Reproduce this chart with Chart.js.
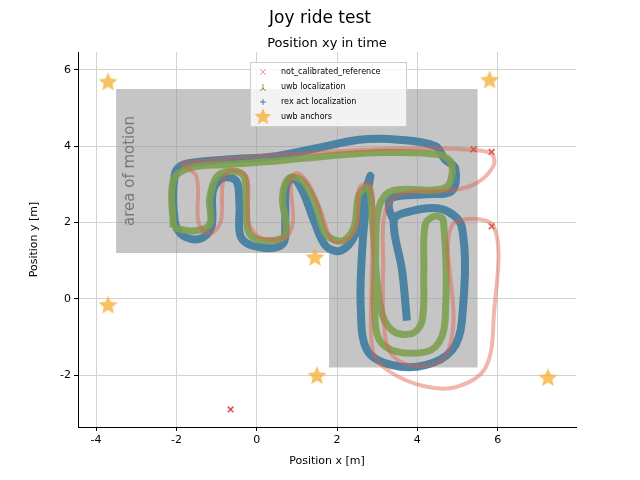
<!DOCTYPE html>
<html>
<head>
<meta charset="utf-8">
<script src="https://cdn.jsdelivr.net/npm/chart.js@4.4.0/dist/chart.umd.min.js"></script>
<style>body{margin:0;background:#fff}</style>
</head>
<body>
<canvas id="grafico" width="640" height="480"></canvas>
<script>
// traiettorie (metri)
let rexX = [3.74,3.62,3.41,3.70,4.61,5.11,5.11,4.86,4.20,3.37,2.75,2.59,2.63,2.75,2.83,2.67,2.46,2.09,1.72,1.43,1.14,0.89,0.73,0.71,0.64,0.07,-0.39,-0.43,-0.51,-0.84,-1.09,-1.13,-1.42,-1.83,-2.04,-2.04,-1.83,-0.76,0.48,1.55,2.55,3.54,4.45,4.69,4.94,4.86,4.20,3.37,3.29,3.41];
let rexY = [-0.57,0.74,2.04,2.26,2.35,1.87,-0.57,-1.35,-1.74,-1.74,-1.35,-0.22,1.35,2.74,3.22,2.65,1.70,1.26,1.39,2.04,2.83,3.17,2.91,2.04,1.43,1.35,1.61,2.48,3.09,3.17,2.83,1.87,1.57,1.65,2.04,3.26,3.52,3.65,3.74,3.96,4.17,4.17,4.00,3.65,3.43,2.83,2.74,2.65,2.39,2.04];
let uwbX = [-2.08,-2.08,-1.67,-0.76,0.48,1.72,2.96,4.53,4.86,4.69,3.37,3.04,2.96,2.96,3.21,3.87,4.45,4.69,4.65,4.45,4.20,4.16,4.12,3.87,3.37,3.08,2.88,2.79,2.55,2.42,2.13,1.72,1.47,1.14,0.81,0.64,0.73,0.31,-0.18,-0.26,-0.35,-0.93,-1.17,-1.17,-1.59,-2.08];
let uwbY = [1.87,3.09,3.43,3.52,3.61,3.74,3.83,3.78,3.52,2.91,2.83,2.39,1.17,-0.74,-1.26,-1.43,-1.26,-0.57,2.04,2.17,1.96,0.74,-0.57,-0.91,-0.83,-0.22,2.04,2.91,2.74,1.87,1.52,1.70,2.48,3.09,3.17,2.65,1.70,1.52,1.70,2.48,3.26,3.26,2.65,1.96,1.78,1.87];
let refX = [-1.9,-0.5,1.0,2.5,4.3,5.4,5.85,5.9,5.5,4.9,3.6,3.2,3.15,3.2,3.5,4.2,4.7,4.9,4.85,5.9,5.9,5.7,5.0,4.2,3.3,2.9,2.85,2.9,2.8,2.55,2.5,2.3,1.9,1.6,1.3,1.0,0.85,0.9,0.7,0.1,-0.2,-0.25,-0.7,-0.85,-0.9,-1.2,-1.45,-1.5,-1.9];
let refY = [3.55,3.7,3.8,3.9,3.95,3.9,3.8,3.5,3.05,2.85,2.75,2.3,1.0,-1.0,-1.6,-1.75,-1.5,-0.6,1.9,1.9,-0.5,-1.8,-2.3,-2.3,-1.9,-1.4,0,2.5,3.0,2.9,2.0,1.6,1.5,2.3,3.0,3.3,3.1,2.0,1.6,1.6,2.0,3.2,3.35,3.0,2.0,1.7,2.0,3.2,3.55];
let markX = [-0.65,5.4,5.85,5.85];
let markY = [-2.9,3.92,3.85,1.9];
let ancoreX = [-3.7,5.8,-3.7,1.45,1.5,7.25];
let ancoreY = [5.7,5.75,-0.15,1.1,-2.0,-2.05];
// area di movimento (due rettangoli)
let areaX1 = [-3.5,1.8], areaX2 = [5.5,5.5], areaY1 = [1.2,-1.8], areaY2 = [5.5,1.2];
let xTicks = [-4,-2,0,2,4,6];
let yTicks = [-2,0,2,4,6];

function punti(xs, ys){ return xs.map((x,i) => ({x: x, y: ys[i]})); }

function stella(ctx, cx, cy, r){
    ctx.beginPath();
    for (var i = 0; i < 10; i++) {
        var a = -Math.PI/2 + i*Math.PI/5;
        var rr = i % 2 ? r*0.45 : r;
        ctx.lineTo(cx + rr*Math.cos(a), cy + rr*Math.sin(a));
    }
    ctx.closePath();
    ctx.fill();
}
var starImg = document.createElement('canvas');
starImg.width = 22; starImg.height = 22;
var sc = starImg.getContext('2d');
sc.fillStyle = 'rgba(246,178,60,0.8)';
stella(sc, 11, 12, 10);

const sfondo = {
    id: 'sfondo',
    beforeDatasetsDraw(chart){
        const c = chart.ctx, xs = chart.scales.x, ys = chart.scales.y;
        c.save();
        c.fillStyle = 'rgba(150,150,150,0.55)';
        for (var i = 0; i < areaX1.length; i++) {
            var l = xs.getPixelForValue(areaX1[i]), r = xs.getPixelForValue(areaX2[i]);
            var t = ys.getPixelForValue(areaY2[i]), b = ys.getPixelForValue(areaY1[i]);
            c.fillRect(l, t, r-l, b-t);
        }
        c.translate(xs.getPixelForValue(-3.15), ys.getPixelForValue(3.35));
        c.rotate(-Math.PI/2);
        c.fillStyle = '#777';
        c.font = '15px "DejaVu Sans"';
        c.textAlign = 'center'; c.textBaseline = 'middle';
        c.fillText('area of motion', 0, 0);
        c.restore();
    },
    afterDraw(chart){
        const c = chart.ctx;
        c.save();
        c.fillStyle = '#000';
        c.textAlign = 'center'; c.textBaseline = 'middle';
        c.font = '17px "DejaVu Sans"';
        c.fillText('Joy ride test', 320, 19);
        c.font = '13px "DejaVu Sans"';
        c.fillText('Position xy in time', 327, 44);
        // legenda
        c.fillStyle = 'rgba(255,255,255,0.8)';
        c.strokeStyle = '#ccc';
        c.fillRect(250, 62, 156, 64);
        c.strokeRect(250.5, 62.5, 156, 64);
        c.font = '8px "DejaVu Sans"';
        c.textAlign = 'left';
        c.fillStyle = '#000';
        var voci = ['not_calibrated_reference','uwb localization','rex act localization','uwb anchors'];
        for (var i = 0; i < voci.length; i++) c.fillText(voci[i], 281, 72 + i*15);
        c.lineWidth = 1;
        c.strokeStyle = 'rgba(220,80,60,0.6)';
        c.beginPath(); c.moveTo(260,69); c.lineTo(266,75); c.moveTo(266,69); c.lineTo(260,75); c.stroke();
        c.strokeStyle = '#7a9e50';
        c.beginPath(); c.moveTo(263,84); c.lineTo(263,90); c.moveTo(260,91); c.lineTo(263,88); c.lineTo(266,91); c.stroke();
        c.strokeStyle = '#3f7fb5';
        c.beginPath(); c.moveTo(263,99); c.lineTo(263,105); c.moveTo(260,102); c.lineTo(266,102); c.stroke();
        c.fillStyle = 'rgba(246,178,60,0.8)';
        stella(c, 263, 117, 9);
        c.restore();
    }
};

const assi = (min, max, ticks, titolo) => ({
    type: 'linear', min: min, max: max,
    afterBuildTicks: s => { s.ticks = ticks.map(v => ({value: v})); },
    grid: {color: '#d3d3d3', drawTicks: true, tickLength: 4, tickColor: '#000'},
    border: {color: '#000', display: true},
    ticks: {color: '#000', font: {family: 'DejaVu Sans', size: 11}, padding: 3},
    title: {display: true, text: titolo, color: '#000', font: {family: 'DejaVu Sans', size: 11}, padding: 2}
});

const scX = assi(-4.45, 7.95, xTicks, 'Position x [m]');
scX.afterFit = s => { s.height = 43; };
const scY = assi(-3.36, 6.47, yTicks, 'Position y [m]');
scY.afterFit = s => { s.width = 52; };

new Chart(document.getElementById('grafico'), {
    type: 'scatter',
    data: {
        datasets: [{
            label: 'not_calibrated_reference',
            data: punti(refX, refY),
            showLine: true, tension: 0.35,
            borderColor: 'rgba(225,95,75,0.45)', borderWidth: 4,
            pointRadius: 0
        }, {
            label: 'uwb localization',
            data: punti(uwbX, uwbY),
            showLine: true, tension: 0.35,
            borderColor: 'rgba(125,160,80,0.9)', borderWidth: 7,
            pointRadius: 0
        }, {
            label: 'rex act localization',
            data: punti(rexX, rexY),
            showLine: true, tension: 0.35,
            borderColor: 'rgba(70,128,160,0.95)', borderWidth: 8,
            pointRadius: 0
        }, {
            label: 'marks',
            data: punti(markX, markY),
            pointStyle: 'crossRot', pointRadius: 4, borderWidth: 1.5,
            borderColor: 'rgba(220,60,40,0.9)'
        }, {
            label: 'uwb anchors',
            data: punti(ancoreX, ancoreY),
            pointStyle: starImg
        }]
    },
    options: {
        responsive: false, animation: false,
        layout: {padding: {top: 52, right: 64, left: 26, bottom: 10}},
        plugins: {legend: {display: false}, tooltip: {enabled: false}},
        scales: {x: scX, y: scY}
    },
    plugins: [sfondo]
});
</script>
</body>
</html>
